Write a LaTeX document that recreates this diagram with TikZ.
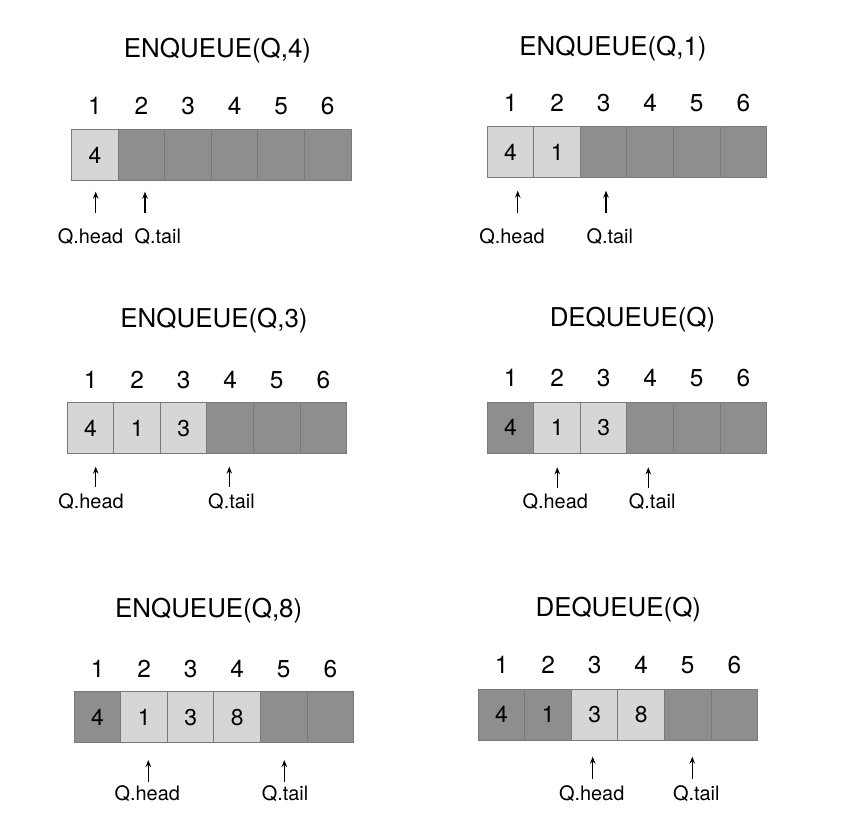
\documentclass[tikz,border=0pt]{standalone}
\usepackage{fontspec}
\setmainfont{TeX Gyre Heros}
\usetikzlibrary{arrows.meta}
\definecolor{dk}{HTML}{8E8E8E}
\definecolor{lt}{HTML}{D6D6D6}
\definecolor{bd}{HTML}{7A7A7A}
\tikzset{
 cell/.style={draw=bd, line width=1bp, minimum width=46.55bp, minimum height=51bp, inner sep=0pt, text height=16.5bp, text depth=0pt, font=\fontsize{23}{27}\selectfont},
 idx/.style={anchor=base, inner sep=0pt, font=\fontsize{24.5}{28}\selectfont},
 ttl/.style={anchor=base, inner sep=0pt, font=\fontsize{26}{30}\selectfont},
 lbl/.style={anchor=base, inner sep=0pt, font=\fontsize{20}{24}\selectfont},
 ptr/.style={line width=1.1bp, -{Stealth[length=7bp,width=5.5bp]}},
}
\newcommand\qpanel[5]{%
  \foreach \c/\v [count=\i] in {#5} {
    \node[cell, fill=\c] (#1c\i) at ({#2+46.55*(\i-0.5)},{#3+25.5}) {\v};
    \node[idx] (#1n\i) at ({#2+46.55*(\i-0.5)},#4) {\i};
  }}
\begin{document}
\begin{tikzpicture}[x=1bp,y=-1bp]
\useasboundingbox (0,0) rectangle (860,840);
% panel 1
\node[ttl] (ta) at (217.5,57.3) {ENQUEUE(Q,4)};
\qpanel{a}{71.7}{129.3}{114.7}{lt/4,dk/{},dk/{},dk/{},dk/{},dk/{}}
\node[lbl] (ah) at (90.5,243.9) {Q.head};
\node[lbl] (at) at (157.8,243.9) {Q.tail};
\coordinate (ah1) at (95.7,212.7); \coordinate (ah2) at (95.7,191.7);
\coordinate (at1) at (145,212.7); \coordinate (at2) at (145,191.7);
\draw[ptr] (ah1) -- (ah2);
\draw[ptr] (at1) -- (at2);
% panel 2
\node[ttl] (tb) at (613,55.3) {ENQUEUE(Q,1)};
\qpanel{b}{487.3}{126.7}{111.4}{lt/4,lt/1,dk/{},dk/{},dk/{},dk/{}}
\node[lbl] (bh) at (512,243.9) {Q.head};
\node[lbl] (bt) at (609.8,243.9) {Q.tail};
\coordinate (bh1) at (517.7,212.7); \coordinate (bh2) at (517.7,190.7);
\coordinate (bt1) at (606,212.7); \coordinate (bt2) at (606,190.7);
\draw[ptr] (bh1) -- (bh2);
\draw[ptr] (bt1) -- (bt2);
% panel 3
\node[ttl] (tc) at (214,327.6) {ENQUEUE(Q,3)};
\qpanel{c}{67.3}{402.3}{388}{lt/4,lt/1,lt/3,dk/{},dk/{},dk/{}}
\node[lbl] (ch) at (91,508.9) {Q.head};
\node[lbl] (ct) at (231.5,508.9) {Q.tail};
\coordinate (ch1) at (95.7,486.7); \coordinate (ch2) at (95.7,466.7);
\coordinate (ct1) at (229.3,486.7); \coordinate (ct2) at (229.3,466.7);
\draw[ptr] (ch1) -- (ch2);
\draw[ptr] (ct1) -- (ct2);
% panel 4
\node[ttl] (td) at (632.5,326) {DEQUEUE(Q)};
\qpanel{d}{487.3}{402}{386.7}{dk/4,lt/1,lt/3,dk/{},dk/{},dk/{}}
\node[lbl] (dh) at (555.3,508.9) {Q.head};
\node[lbl] (dt) at (652.2,508.9) {Q.tail};
\coordinate (dh1) at (557.3,488.3); \coordinate (dh2) at (557.3,467.3);
\coordinate (dt1) at (648.3,488.3); \coordinate (dt2) at (648.3,467.3);
\draw[ptr] (dh1) -- (dh2);
\draw[ptr] (dt1) -- (dt2);
% panel 5
\node[ttl] (te) at (208.7,617.6) {ENQUEUE(Q,8)};
\qpanel{e}{74.3}{691.7}{677}{dk/4,lt/1,lt/3,lt/8,dk/{},dk/{}}
\node[lbl] (eh) at (147.3,800.5) {Q.head};
\node[lbl] (et) at (285,800.5) {Q.tail};
\coordinate (eh1) at (148.3,781.7); \coordinate (eh2) at (148.3,760);
\coordinate (et1) at (284.3,781.7); \coordinate (et2) at (284.3,760);
\draw[ptr] (eh1) -- (eh2);
\draw[ptr] (et1) -- (et2);
% panel 6
\node[ttl] (tf) at (618.3,616) {DEQUEUE(Q)};
\qpanel{f}{478.3}{689}{673.7}{dk/4,dk/1,lt/3,lt/8,dk/{},dk/{}}
\node[lbl] (fh) at (591.7,800.5) {Q.head};
\node[lbl] (ft) at (696.3,800.5) {Q.tail};
\coordinate (fh1) at (592.7,779.3); \coordinate (fh2) at (592.7,756.7);
\coordinate (ft1) at (692.3,779.3); \coordinate (ft2) at (692.3,756.7);
\draw[ptr] (fh1) -- (fh2);
\draw[ptr] (ft1) -- (ft2);
\end{tikzpicture}
\end{document}
